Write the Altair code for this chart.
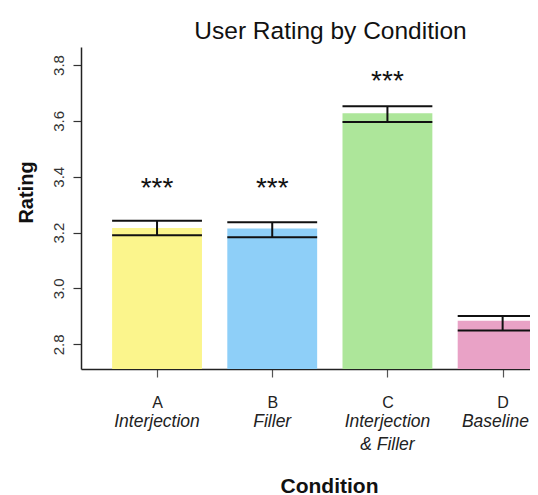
import json
import altair as alt
import pandas as pd

# ---- data ----
letters = ["A", "B", "C", "D"]
conditions = ["Interjection", "Filler", "Interjection\n& Filler", "Baseline"]
means = [3.216, 3.215, 3.627, 2.884]
err_low = [3.190, 3.183, 3.596, 2.849]
err_high = [3.2425, 3.237, 3.652, 2.901]
signif = ["***", "***", "***", ""]
signif_y = [3.374, 3.374, 3.757, 2.95]
colors = ["#FBF58C", "#8ECFF8", "#ADE69A", "#E9A2C6"]
y_ticks = [2.8, 3.0, 3.2, 3.4, 3.6, 3.8]

# ---- layout constants ----
Y_MIN, Y_MAX = 2.7116, 3.8644
X_MIN, X_MAX = 0.340, 4.2376
HALF = 0.39
LABEL_HALF = 0.30  # keeps the last italic label inside the visible frame
FONT = "Liberation Sans"

df = pd.DataFrame({
    "idx": [1, 2, 3, 4],
    "letter": letters,
    "cond": conditions,
    "mean": means,
    "lo": err_low,
    "hi": err_high,
    "sig": signif,
    "sig_y": signif_y,
})

x_scale = alt.Scale(domain=[X_MIN, X_MAX], nice=False, zero=False)
y_scale = alt.Scale(domain=[Y_MIN, Y_MAX], nice=False, zero=False)

x_axis = alt.Axis(
    values=[1, 2, 3, 4],
    labelExpr=json.dumps(letters) + "[datum.value - 1]",
    grid=False, domainColor="#222", domainWidth=1.5,
    tickColor="#555", tickSize=8, tickWidth=1.2,
    labelFontSize=16, labelColor="#222", labelPadding=17, labelFont=FONT,
    title="Condition", titleFontSize=21, titleFontWeight="bold", titleFont=FONT,
    titleColor="#111", titleX=248, titleY=117, titleBaseline="middle",
    titleAlign="center",
)
y_axis = alt.Axis(
    values=y_ticks, format=".1f", grid=False,
    domainColor="#222", domainWidth=1.5, tickColor="#333", tickSize=8, tickWidth=1.2,
    labelAngle=270, labelAlign="center", labelBaseline="bottom",
    labelFontSize=15, labelColor="#333", labelPadding=7, labelFont=FONT, labelFlush=False,
    title="Rating", titleFontSize=20, titleFontWeight="bold", titleFont=FONT,
    titleColor="#111", titleAngle=270, titleX=-55, titleY=145,
    titleAlign="center", titleBaseline="middle",
)

base = alt.Chart(df).transform_calculate(
    xl=f"datum.idx - {HALF}",
    xr=f"datum.idx + {HALF}",
    name_x=f"min(datum.idx, {X_MAX} - {LABEL_HALF})",
)

bars = base.mark_bar(clip=True).encode(
    x=alt.X("xl:Q", scale=x_scale, axis=x_axis),
    x2="xr:Q",
    y=alt.Y("mean:Q", scale=y_scale, axis=y_axis),
    y2=alt.datum(Y_MIN),
    color=alt.Color("letter:N", scale=alt.Scale(domain=letters, range=colors), legend=None),
)

stem = base.mark_rule(color="#111", strokeWidth=2, clip=True).encode(
    x=alt.X("idx:Q", scale=x_scale, axis=x_axis),
    y=alt.Y("lo:Q", scale=y_scale, axis=y_axis),
    y2="hi:Q",
)
cap_hi = base.mark_rule(color="#111", strokeWidth=2, clip=True).encode(
    x=alt.X("xl:Q", scale=x_scale, axis=x_axis),
    x2="xr:Q",
    y=alt.Y("hi:Q", scale=y_scale, axis=y_axis),
)
cap_lo = base.mark_rule(color="#111", strokeWidth=2, clip=True).encode(
    x=alt.X("xl:Q", scale=x_scale, axis=x_axis),
    x2="xr:Q",
    y=alt.Y("lo:Q", scale=y_scale, axis=y_axis),
)

stars = base.mark_text(
    font=FONT, fontSize=28, color="#111", baseline="alphabetic", dy=13
).encode(
    x=alt.X("idx:Q", scale=x_scale, axis=x_axis),
    y=alt.Y("sig_y:Q", scale=y_scale, axis=y_axis),
    text="sig:N",
)

names = base.mark_text(
    font=FONT, fontSize=17.5, fontStyle="italic", color="#222",
    baseline="alphabetic", lineBreak="\n", lineHeight=23,
).encode(
    x=alt.X("name_x:Q", scale=x_scale, axis=x_axis),
    y=alt.value(380),
    text="cond:N",
)

chart = alt.layer(bars, stem, cap_hi, cap_lo, stars, names).properties(
    width=449,
    height=322,
    title=alt.TitleParams(
        "User Rating by Condition", fontSize=24.5, fontWeight="normal", font=FONT,
        color="#111", baseline="alphabetic", offset=5, anchor="middle", dx=25, dy=21,
    ),
    autosize=alt.AutoSizeParams(type="none"),
    padding={"left": 73, "top": 39, "right": 0, "bottom": 126},
).configure(
    background="white",
    view=alt.ViewConfig(strokeWidth=0, stroke="transparent"),
)

chart.save("out.html", embed_options={"renderer": "svg", "actions": False})
